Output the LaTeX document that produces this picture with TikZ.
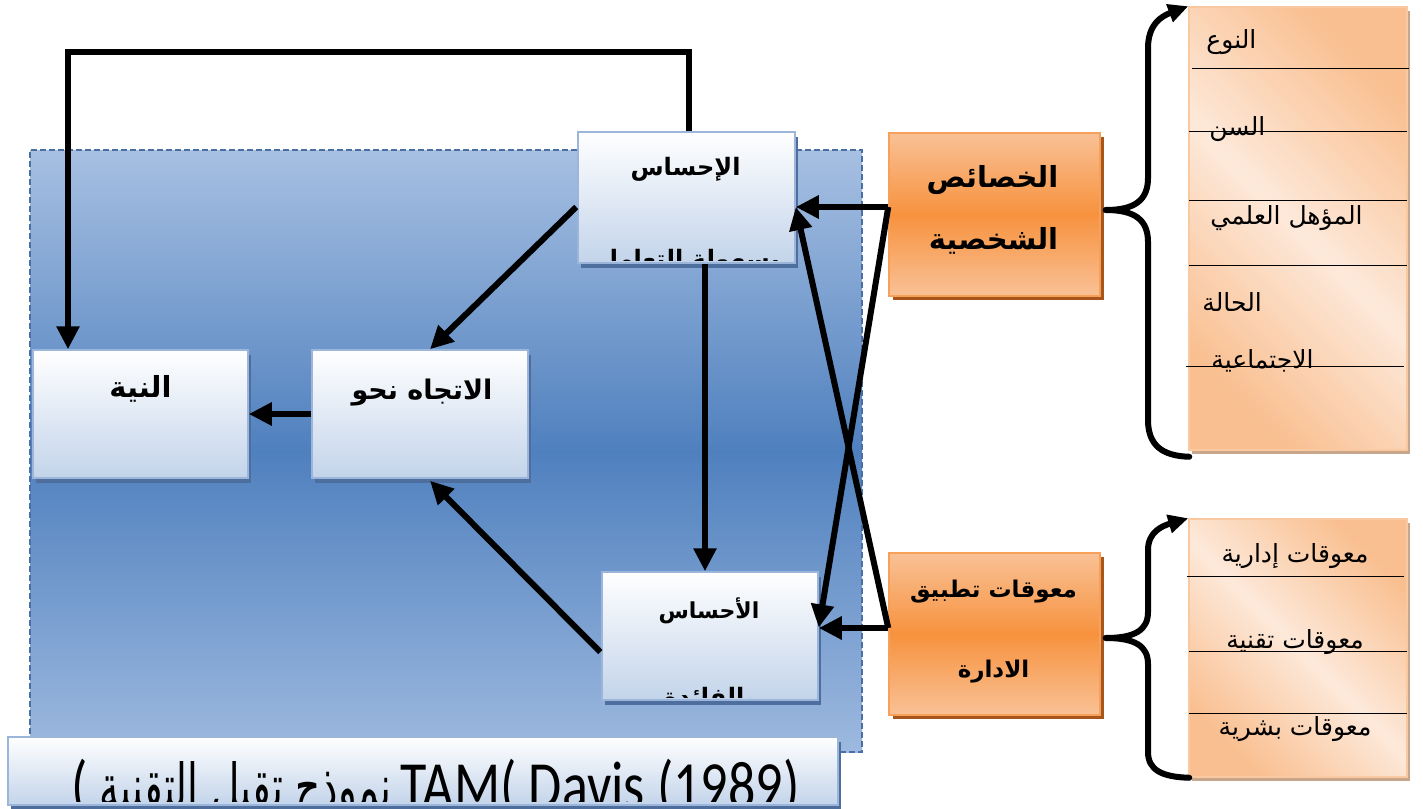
\documentclass[tikz,border=0pt]{standalone}
\usepackage{fontspec}
\usetikzlibrary{arrows.meta,calc,shadows}
\TeXXeTstate=1
\newfontfamily\arabicfont[Script=Arabic]{DejaVu Sans}
\newfontfamily\capfont{Carlito}
\newcommand{\rtltext}[1]{\beginR#1\endR}

\definecolor{bgtop}{HTML}{A7C0E2}
\definecolor{bgmid}{HTML}{4F80BE}
\definecolor{bgbot}{HTML}{9DB9DF}
\definecolor{bgline}{HTML}{4A6FA5}
\definecolor{boxbot}{HTML}{C3D4EA}
\definecolor{boxline}{HTML}{9CB6DB}
\definecolor{boxshadow}{HTML}{4E6E9E}
\definecolor{orlight}{HTML}{F9C196}
\definecolor{ormid}{HTML}{F7923E}
\definecolor{orline}{HTML}{F6A05A}
\definecolor{orshadow}{HTML}{A9561C}
\definecolor{listlight}{HTML}{FDE9DA}
\definecolor{listdark}{HTML}{F9BF90}
\definecolor{listline}{HTML}{FAC9A0}
\definecolor{listshadow}{HTML}{C8A68C}

\tikzset{
  panel/.style={rectangle, inner sep=0pt, line width=1.5pt},
  bgpanel/.style={panel, draw=bgline, line width=1.2pt, dash pattern=on 6pt off 3pt,
    top color=bgtop, bottom color=bgbot, middle color=bgmid},
  bluebox/.style={panel, draw=boxline, top color=white, bottom color=boxbot,
    drop shadow={shadow xshift=3pt, shadow yshift=-5pt, fill=boxshadow, opacity=1}},
  orbox/.style={panel, draw=orline, top color=orlight, bottom color=orlight, middle color=ormid,
    drop shadow={shadow xshift=4pt, shadow yshift=-4pt, fill=orshadow, opacity=1}},
  listbox/.style={panel, draw=listline, left color=listdark, right color=listdark,
    middle color=listlight, shading angle=135,
    drop shadow={shadow xshift=3pt, shadow yshift=-4pt, fill=listshadow, opacity=1}},
  ttl/.style={font=\arabicfont\bfseries\fontsize{#1}{#1}\selectfont, inner sep=0pt},
  ttl/.default=24,
  itm/.style={font=\arabicfont\fontsize{25}{28}\selectfont, inner sep=0pt},
  arr/.style={line width=6pt, line join=miter, -{Triangle[length=23pt,width=22pt]}},
  brace/.style={line width=6pt, line cap=round},
  bracetip/.style={brace, -{Triangle[length=20pt,width=18pt]}},
  sep/.style={line width=1.4pt, black},
}

\begin{document}
\begin{tikzpicture}[x=1pt,y=-1pt]
\useasboundingbox (0,0) rectangle (1423,808);

% shaded panel holding the TAM model
\node[bgpanel, minimum width=832pt, minimum height=602pt] (bg) at (446,451) {};

% model boxes
\node[bluebox, minimum width=217pt, minimum height=131pt] (ease) at (686.5,197.5) {};
\node[bluebox, minimum width=216pt, minimum height=128pt] (use) at (710,636) {};
\node[bluebox, minimum width=216pt, minimum height=128pt] (att) at (420,414) {};
\node[bluebox, minimum width=215pt, minimum height=128pt] (int) at (140.5,414) {};

\node[ttl=24] (easeT) at ($(ease.north)+(-1,38)$) {\rtltext{الإحساس}};
\node[ttl=22] (useT) at ($(use.north)+(-1,40)$) {\rtltext{الأحساس}};
\node[ttl=27] (attT) at ($(att.north)+(2,43)$) {\rtltext{الاتجاه  نحو}};
\node[ttl=29] (intT) at ($(int.north)+(0,40)$) {\rtltext{النية}};

% second lines, cut off by the box edges
\begin{scope}
  \clip ($(ease.south west)+(2,-3)$) rectangle ($(ease.north east)+(-2,2)$);
  \node[ttl=24, anchor=base] (easeL) at ($(ease.south)+(2,4)$) {\rtltext{بسهولة التعامل}};
\end{scope}
\begin{scope}
  \clip ($(use.south west)+(2,-3)$) rectangle ($(use.north east)+(-2,2)$);
  \node[ttl=24, anchor=base] (useL) at ($(use.south)+(-1,5)$) {\rtltext{بالفائدة}};
\end{scope}

% caption bar, its line cut off by the bar's lower edge
\node[bluebox, minimum width=830pt, minimum height=68pt] (cap) at (423,771) {};
\begin{scope}
  \clip ($(cap.south west)+(2,-4)$) rectangle ($(cap.north east)+(-2,2)$);
  \node[anchor=base west, inner sep=0pt] (capT) at ($(cap.south west)+(64,3)$)
    {\capfont\fontsize{54}{54}\selectfont
     \scalebox{1}[1.25]{(}\hspace{12pt}%
     \resizebox{292pt}{47pt}{\arabicfont\rtltext{نموذج تقبل التقنية}}\hspace{9pt}%
     \scalebox{1}[1.25]{TAM( Davis (1989)}};
\end{scope}

% relations inside the model
\coordinate (fbc) at (68,52);
\draw[arr] ($(ease.north)+(2.5,0)$) |- (fbc) -- ($(int.north)+(-72.5,0)$);
\draw[arr] ($(ease.west)+(-1,9.5)$) -- ($(att.north)+(10,0)$);
\draw[arr] ($(ease.south)+(18.5,0)$) -- ($(use.north)+(-5,0)$);
\draw[arr] ($(use.west)+(-1,16)$) -- ($(att.south)+(10,2)$);
\draw[arr] (att.west) -- (int.east);

% external factor boxes
\node[orbox, minimum width=211pt, minimum height=163pt] (pc) at (994.5,214.5) {};
\node[orbox, minimum width=211pt, minimum height=162pt] (bar) at (994.5,634) {};
\node[ttl=29] (pcT1) at ($(pc.center)+(-2,-34)$) {\rtltext{الخصائص}};
\node[ttl=29] (pcT2) at ($(pc.center)+(-1,26)$) {\rtltext{الشخصية}};
\node[ttl=23] (barT1) at ($(bar.center)+(-1,-42)$) {\rtltext{معوقات تطبيق}};
\node[ttl=23] (barT2) at ($(bar.center)+(-1,38)$) {\rtltext{الادارة}};

% crossing influences of the external factors
\coordinate (pcs) at ($(pc.west)+(0,-7.5)$);
\coordinate (bars) at ($(bar.west)+(0,-6)$);
\draw[arr] (pcs) -- ($(ease.east)+(0,9.5)$);
\draw[arr] (pcs) -- ($(use.east)+(0,-8.5)$);
\draw[arr] (bars) -- ($(use.east)+(0,-8)$);
\draw[arr] (bars) -- ($(ease.east)+(0,9.5)$);

% item lists
\node[listbox, minimum width=218pt, minimum height=443pt] (lst1) at (1298,228.5) {};
\node[listbox, minimum width=218pt, minimum height=258pt] (lst2) at (1298,648) {};

\draw[sep] ($(lst1.north west)+(4,62)$) -- ++(217,0);
\draw[sep] ($(lst1.north west)+(1,125)$) -- ++(218,0);
\draw[sep] ($(lst1.north west)+(1,194)$) -- ++(218,0);
\draw[sep] ($(lst1.north west)+(1,259)$) -- ++(218,0);
\draw[sep] ($(lst1.north west)+(-2,360)$) -- ++(218,0);

\node[itm, anchor=west] (i1) at ($(lst1.north west)+(18,36)$) {\rtltext{النوع}};
\node[itm, anchor=west] (i2) at ($(lst1.north west)+(21,123)$) {\rtltext{السن}};
\node[itm, anchor=west] (i3) at ($(lst1.north west)+(22,212)$) {\rtltext{المؤهل العلمي}};
\node[itm, anchor=west] (i4) at ($(lst1.north west)+(14,296)$) {\rtltext{الحالة}};
\node[itm, anchor=west] (i5) at ($(lst1.north west)+(23,355)$) {\rtltext{الاجتماعية}};

\draw[sep] ($(lst2.north west)+(-1,58)$) -- ++(217,0);
\draw[sep] ($(lst2.north west)+(1,133)$) -- ++(218,0);
\draw[sep] ($(lst2.north west)+(1,195)$) -- ++(218,0);

\node[itm] (j1) at ($(lst2.north)+(-3,38)$) {\rtltext{معوقات إدارية}};
\node[itm] (j2) at ($(lst2.north)+(-3,124)$) {\rtltext{معوقات تقنية}};
\node[itm] (j3) at ($(lst2.north)+(-3,211)$) {\rtltext{معوقات بشرية}};

% braces from the factor boxes to their lists
\coordinate (br1) at ($(pc.east)+(5,-4.5)$);
\draw[bracetip] (br1) .. controls (1135,210) and (1148,200) .. (1148,178)
  -- (1148,48) .. controls (1148,24) and (1162,16) .. (lst1.north west);
\draw[brace] (br1) .. controls (1135,210) and (1148,220) .. (1148,242)
  -- (1148,420) .. controls (1148,445) and (1162,456) .. ($(lst1.south west)+(1,6)$);

\coordinate (br2) at ($(bar.east)+(5,4)$);
\draw[bracetip] (br2) .. controls (1135,638) and (1148,630) .. (1148,612)
  -- (1148,550) .. controls (1148,532) and (1162,526) .. (lst2.north west);
\draw[brace] (br2) .. controls (1135,638) and (1148,646) .. (1148,664)
  -- (1148,752) .. controls (1148,770) and (1162,777) .. ($(lst2.south west)+(1,0)$);
\end{tikzpicture}
\end{document}
